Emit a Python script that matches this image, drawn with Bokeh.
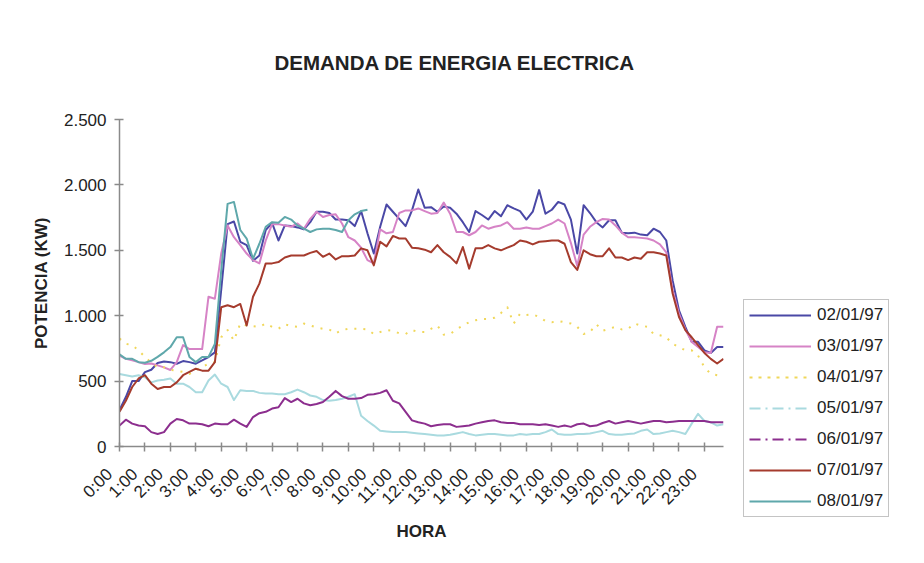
import numpy as np
from bokeh.plotting import figure
from bokeh.models import Range1d, Legend, LegendItem, FixedTicker
from bokeh.embed import file_html
from bokeh.resources import INLINE

# ---- data (kW, readings every 15 minutes) ----
hour_labels = ["0:00", "1:00", "2:00", "3:00", "4:00", "5:00", "6:00", "7:00",
               "8:00", "9:00", "10:00", "11:00", "12:00", "13:00", "14:00", "15:00",
               "16:00", "17:00", "18:00", "19:00", "20:00", "21:00", "22:00", "23:00"]
readings_per_hour = 4

d02 = [280, 378, 500, 500, 569, 587, 638, 650,
       645, 633, 653, 645, 633, 658, 684, 720,
       1200, 1700, 1720, 1565, 1540, 1420, 1460, 1655,
       1710, 1575, 1690, 1685, 1675, 1660, 1715, 1795,
       1795, 1785, 1735, 1735, 1730, 1685, 1800, 1630,
       1475, 1680, 1850, 1795, 1740, 1685, 1805, 1965,
       1825, 1830, 1795, 1835, 1825, 1780, 1715, 1640,
       1800, 1770, 1735, 1800, 1760, 1845, 1820, 1800,
       1735, 1795, 1960, 1780, 1810, 1870, 1850, 1735,
       1475, 1845, 1785, 1715, 1675, 1730, 1730, 1635,
       1630, 1635, 1620, 1615, 1665, 1640, 1575, 1270,
       1040, 915, 800, 800, 735, 715, 760, 760]

d03 = [695, 670, 660, 645, 630, 635, 620, 605,
       585, 645, 775, 745, 745, 745, 1145, 1130,
       1475, 1690, 1600, 1540, 1475, 1425, 1400, 1575,
       1700, 1700, 1690, 1680, 1705, 1665, 1740, 1795,
       1755, 1770, 1775, 1705, 1600, 1575, 1520, 1425,
       1400, 1660, 1630, 1640, 1785, 1805, 1805, 1820,
       1800, 1780, 1785, 1865, 1780, 1640, 1640, 1615,
       1640, 1690, 1665, 1680, 1690, 1715, 1665, 1665,
       1675, 1665, 1665, 1685, 1705, 1735, 1705, 1555,
       1380, 1620, 1680, 1715, 1740, 1735, 1690, 1635,
       1600, 1600, 1595, 1590, 1575, 1545, 1485, 1195,
       1015, 895, 800, 760, 720, 715, 915, 915]

d04 = [825, 785, 775, 735, 685, 640, 605, 605,
       585, 580, 570, 555, 585, 605, 635, 645,
       835, 890, 810, 940, 925, 920, 915, 940,
       915, 900, 935, 920, 915, 940, 925, 910,
       900, 895, 865, 890, 900, 900, 900, 895,
       860, 875, 890, 885, 865, 860, 890, 875,
       875, 900, 925, 855, 860, 895, 925, 950,
       965, 975, 975, 985, 1020, 1065, 940, 1015,
       1005, 1010, 990, 960, 950, 960, 950, 940,
       915, 860, 875, 935, 885, 900, 915, 895,
       900, 940, 925, 915, 860, 850, 835, 785,
       760, 735, 735, 695, 605, 555, 545, 535]

d05 = [555, 545, 535, 545, 530, 490, 505, 510,
       520, 480, 480, 455, 415, 415, 505, 550,
       480, 455, 355, 430, 425, 425, 410, 405,
       405, 400, 400, 415, 435, 415, 390, 380,
       355, 350, 355, 365, 380, 400, 235, 195,
       160, 120, 115, 110, 110, 110, 105, 100,
       95, 90, 85, 85, 90, 100, 110, 95,
       85, 90, 95, 95, 90, 85, 85, 95,
       90, 95, 95, 110, 130, 95, 90, 90,
       95, 95, 100, 110, 120, 95, 90, 90,
       95, 100, 120, 130, 95, 100, 110, 120,
       110, 95, 175, 250, 195, 185, 160, 170]

d06 = [160, 205, 175, 160, 155, 110, 95, 110,
       175, 210, 200, 175, 175, 170, 155, 175,
       170, 170, 205, 175, 150, 225, 255, 265,
       290, 300, 370, 340, 365, 330, 315, 325,
       340, 380, 425, 385, 365, 365, 370, 395,
       400, 410, 430, 350, 330, 265, 200, 185,
       175, 155, 165, 170, 170, 150, 155, 160,
       175, 185, 195, 200, 185, 180, 180, 170,
       170, 170, 165, 170, 160, 150, 160, 150,
       170, 175, 155, 160, 180, 195, 175, 185,
       195, 185, 175, 185, 195, 195, 185, 190,
       195, 195, 195, 195, 195, 185, 185, 185]

d07 = [265, 350, 455, 520, 545, 480, 440, 455,
       455, 490, 545, 570, 595, 580, 580, 645,
       1065, 1080, 1065, 1090, 925, 1145, 1245, 1400,
       1400, 1410, 1445, 1460, 1460, 1460, 1480, 1495,
       1450, 1475, 1430, 1455, 1455, 1460, 1515, 1500,
       1385, 1565, 1530, 1610, 1590, 1590, 1520, 1515,
       1505, 1485, 1540, 1485, 1450, 1400, 1525, 1360,
       1515, 1515, 1540, 1515, 1500, 1520, 1540, 1575,
       1565, 1545, 1565, 1570, 1575, 1575, 1550, 1410,
       1350, 1500, 1470, 1455, 1455, 1515, 1445, 1445,
       1425, 1445, 1435, 1485, 1485, 1475, 1460, 1170,
       990, 890, 835, 775, 715, 670, 635, 670]

d08 = [705, 670, 670, 645, 640, 655, 685, 720,
       760, 835, 835, 685, 645, 685, 685, 785,
       1345, 1855, 1870, 1655, 1590, 1435, 1550, 1680,
       1715, 1710, 1755, 1735, 1690, 1665, 1640, 1660,
       1665, 1665, 1655, 1640, 1730, 1775, 1800, 1810]

series_labels = ["02/01/97", "03/01/97", "04/01/97", "05/01/97", "06/01/97", "07/01/97", "08/01/97"]
series_data = [d02, d03, d04, d05, d06, d07, d08]
colors = ["#4a48a6", "#d683c6", "#f0d75a", "#a9dadf", "#8c2e8e", "#a53b2d", "#5fa8ab"]
plot_dash = ["solid", "solid", "2 7", "solid", "solid", "solid", "solid"]
legend_dash = ["solid", "solid", "3 6", "11 5 2 5", "11 5 2 5", "solid", "solid"]

y_ticks = [0, 500, 1000, 1500, 2000, 2500]
y_tick_text = ["0", "500", "1.000", "1.500", "2.000", "2.500"]

# ---- figure ----
FONT = "Liberation Sans"
TXT = "#222222"
AX = "#8a8a8a"
NBSP = "\u00a0"
n_points = len(d02)

p = figure(frame_width=604, frame_height=327,
           min_border_left=119, min_border_right=193,
           min_border_top=119, min_border_bottom=109,
           x_range=Range1d(0, n_points - 1), y_range=Range1d(0, 2500),
           output_backend="svg", toolbar_location=None)
p.background_fill_color = "white"
p.border_fill_color = "white"
p.outline_line_color = None
p.xgrid.visible = False
p.ygrid.visible = False

for data, col, dash in zip(series_data, colors, plot_dash):
    xs = list(range(len(data)))
    p.line(xs, data, line_color=col, line_width=2, line_dash=dash, line_join="round")

# title
p.title.text = "DEMANDA DE ENERGIA ELECTRICA"
p.title.align = "left"
p.title.offset = 155
p.title.standoff = 91
p.title.text_font = FONT
p.title.text_font_size = "20.5px"
p.title.text_font_style = "bold"
p.title.text_color = TXT

# axes
xticks = [i * readings_per_hour for i in range(len(hour_labels))]
xa = p.xaxis[0]
xa.ticker = FixedTicker(ticks=xticks)
# trailing no-break spaces nudge the slanted labels down-left of their ticks
xa.major_label_overrides = {t: lab + NBSP * 3 for t, lab in zip(xticks, hour_labels)}
xa.major_label_orientation = np.pi / 4
xa.major_label_text_font_size = "17px"
xa.major_label_standoff = 10
xa.axis_label = "HORA"
xa.axis_label_standoff = 4

ya = p.yaxis[0]
ya.ticker = FixedTicker(ticks=y_ticks)
ya.major_label_overrides = {t: lab for t, lab in zip(y_ticks, y_tick_text)}
ya.major_label_text_font_size = "17px"
ya.major_label_standoff = 8
ya.axis_label = "POTENCIA (KW)"
ya.axis_label_standoff = 10

for ax in (xa, ya):
    ax.axis_line_color = AX
    ax.axis_line_width = 1.5
    ax.major_tick_line_color = AX
    ax.major_tick_line_width = 1.5
    ax.major_tick_in = 4
    ax.major_tick_out = 5
    ax.minor_tick_line_color = None
    ax.major_label_text_font = FONT
    ax.major_label_text_color = TXT
    ax.axis_label_text_font = FONT
    ax.axis_label_text_font_size = "17px"
    ax.axis_label_text_font_style = "bold"
    ax.axis_label_text_color = TXT

# legend (single-point proxy renderers carry the dash styles; nothing visible is drawn)
items = []
for lab, col, dash in zip(series_labels, colors, legend_dash):
    r = p.line(x=[0], y=[-1000], line_color=col, line_width=2, line_dash=dash)
    items.append(LegendItem(label=lab, renderers=[r]))
legend = Legend(items=items, location=(20, -71), orientation="vertical",
                label_text_font=FONT, label_text_font_size="17px", label_text_color=TXT,
                glyph_width=62, glyph_height=20, label_height=20, spacing=11,
                padding=5, margin=0, label_standoff=6,
                border_line_color=AX, border_line_width=1.5,
                background_fill_color="white", background_fill_alpha=1.0)
p.add_layout(legend, "right")

open("out.html", "w").write(file_html(p, INLINE))
